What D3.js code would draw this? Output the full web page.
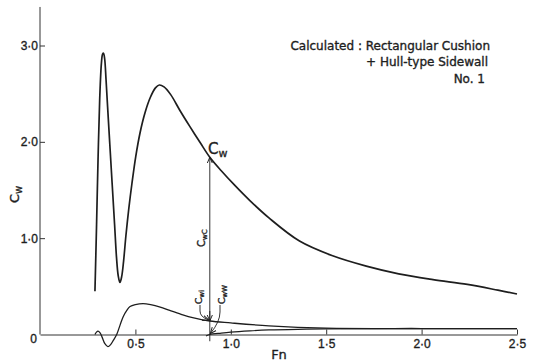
<!DOCTYPE html>
<html>
<head>
<meta charset="utf-8">
<script src="https://cdn.jsdelivr.net/npm/d3@7"></script>
<style>
  body { margin: 0; background: #fff; }
  svg { display: block; }
  text { stroke: #1e1e1e; stroke-width: 0.35px; }
</style>
</head>
<body>
<svg id="chart" width="534" height="363"></svg>
<script>
// Wave-resistance coefficient Cw and its components against Froude number Fn

// Total wave resistance Cw
const cwFn  = [0.288,0.296,0.304,0.313,0.322,0.328,0.333,0.339,0.346,0.355,0.366,0.378,0.391,0.401,0.410,0.419,0.428,0.438,0.450,0.465,0.482,0.502,0.525,0.550,0.578,0.605,0.625,0.650,0.685,0.735,0.785,0.840,0.890,0.950,1.020,1.100,1.200,1.360,1.530,1.710,1.880,2.060,2.240,2.400,2.500];
const cwVal = [0.45,1.10,1.80,2.45,2.82,2.91,2.92,2.86,2.65,2.34,1.97,1.57,1.14,0.80,0.61,0.54,0.60,0.76,1.02,1.30,1.57,1.85,2.10,2.30,2.46,2.56,2.59,2.57,2.49,2.32,2.16,1.99,1.84,1.70,1.55,1.39,1.21,0.97,0.82,0.71,0.63,0.57,0.52,0.46,0.42];

// Interaction component Cwi
const cwiFn  = [0.288,0.296,0.304,0.314,0.326,0.340,0.356,0.370,0.386,0.402,0.420,0.436,0.455,0.472,0.500,0.540,0.580,0.630,0.680,0.740,0.800,0.890,1.000,1.200,1.500,2.000,2.500];
const cwiVal = [0.00,0.025,0.035,0.020,-0.030,-0.095,-0.125,-0.105,-0.055,0.00,0.10,0.185,0.25,0.29,0.31,0.32,0.31,0.285,0.25,0.21,0.175,0.14,0.12,0.09,0.066,0.062,0.062];

// Sidewall component CwW
const cwwFn  = [0.870,0.890,0.950,1.000,1.100,1.200,1.350,1.500,2.000,2.500];
const cwwVal = [-0.015,0.00,0.015,0.025,0.038,0.047,0.054,0.058,0.060,0.060];

// Annotated Froude number and the component values there
const markFn  = 0.89;
const markCw  = 1.84;
const markCwi = 0.14;

const xTicks = [0.5, 1.0, 1.5, 2.0, 2.5];
const yTicks = [1.0, 2.0, 3.0];
const titleLines = ["Calculated : Rectangular Cushion", "+ Hull-type Sidewall", "No. 1"];

const ink = "#1e1e1e";
const svg = d3.select("#chart");

const x = d3.scaleLinear().domain([0, 2.5]).range([40, 517]);
const y = d3.scaleLinear().domain([0, 3]).range([334.5, 45.5]);
const fmt = d => d3.format(".1f")(d).replace(".", "\u00b7");

// arrowhead (open V)
svg.append("defs").append("marker")
  .attr("id", "arr")
  .attr("viewBox", "0 0 8 8")
  .attr("refX", 7).attr("refY", 4)
  .attr("markerWidth", 7).attr("markerHeight", 7)
  .attr("markerUnits", "userSpaceOnUse")
  .attr("orient", "auto-start-reverse")
  .append("path")
  .attr("d", "M0,1 L7,4 L0,7")
  .attr("fill", "none").attr("stroke", ink).attr("stroke-width", 1.1);

// axes
const xAxis = svg.append("g")
  .attr("transform", `translate(0,${y(0)})`)
  .call(d3.axisBottom(x).tickValues(xTicks).tickSize(-5).tickSizeOuter(0).tickPadding(5).tickFormat(fmt));
const yAxis = svg.append("g")
  .attr("transform", `translate(${x(0)},0)`)
  .call(d3.axisLeft(y).tickValues(yTicks).tickSize(-5).tickSizeOuter(0).tickPadding(2).tickFormat(fmt));
yAxis.select(".domain").remove();
yAxis.append("line")
  .attr("x1", 0).attr("x2", 0)
  .attr("y1", y(0)).attr("y2", y(3.4));

[xAxis, yAxis].forEach(g => {
  g.selectAll("path, line").attr("stroke", "#333").attr("stroke-width", 1);
  g.selectAll("text")
    .attr("fill", ink)
    .style("font-family", "'Liberation Sans', Arial, sans-serif")
    .style("font-size", "12px");
});

// origin label
svg.append("text")
  .attr("x", 37).attr("y", 343)
  .attr("text-anchor", "end")
  .attr("fill", ink)
  .style("font-family", "'Liberation Sans', Arial, sans-serif")
  .style("font-size", "12px")
  .text("0");

// axis titles
svg.append("text")
  .attr("x", 279).attr("y", 359)
  .attr("text-anchor", "middle")
  .attr("fill", ink)
  .style("font-family", "'DejaVu Sans', sans-serif")
  .style("font-size", "13px")
  .text("Fn");

function subLabel(g, main, sub, mainSize, subSize) {
  const t = g.append("text")
    .attr("fill", ink)
    .style("font-family", "'DejaVu Sans', sans-serif")
    .style("font-size", mainSize + "px");
  t.append("tspan").text(main);
  t.append("tspan").attr("dy", subSize * 0.3).style("font-size", subSize + "px").text(sub);
  return t;
}

const yTitle = svg.append("g").attr("transform", "translate(19,203) rotate(-90)");
subLabel(yTitle, "C", "w", 13, 10);

// curves
const line = d3.line()
  .x(d => x(d[0]))
  .y(d => y(d[1]))
  .curve(d3.curveCatmullRom.alpha(0.5));

const curves = [
  { fn: cwFn,  val: cwVal,  w: 1.7 },
  { fn: cwiFn, val: cwiVal, w: 1.3 },
  { fn: cwwFn, val: cwwVal, w: 1.2 }
];
curves.forEach(c => {
  svg.append("path")
    .datum(c.fn.map((f, i) => [f, c.val[i]]))
    .attr("d", line)
    .attr("fill", "none")
    .attr("stroke", ink)
    .attr("stroke-width", c.w)
    .attr("stroke-linejoin", "round");
});

// Cw label beside the curve
const cwLab = svg.append("g").attr("transform", "translate(208,154)");
subLabel(cwLab, "C", "w", 15, 11);

// vertical dimension line at the annotated Fn
const xm = x(markFn);
svg.append("path")
  .attr("d", `M${xm},${y(markCw)} L${xm},${y(-0.07)}`)
  .attr("stroke", ink).attr("stroke-width", 0.9).attr("fill", "none")
  .attr("marker-start", "url(#arr)");
svg.append("path")
  .attr("d", `M${xm},${y(markCwi) - 10} L${xm},${y(markCwi)}`)
  .attr("stroke", ink).attr("stroke-width", 0.9).attr("fill", "none")
  .attr("marker-end", "url(#arr)");

// CwC label along the dimension line
const cwcLab = svg.append("g").attr("transform", `translate(${xm - 5},${y(1.0)}) rotate(-90)`);
subLabel(cwcLab, "C", "wC", 10, 7).attr("text-anchor", "middle");

// Cwi and CwW labels with leader brackets
const cwiLab = svg.append("g").attr("transform", "translate(202,304) rotate(-90)");
subLabel(cwiLab, "C", "wi", 9, 7);
const cwwLab = svg.append("g").attr("transform", "translate(225,304) rotate(-90)");
subLabel(cwwLab, "C", "wW", 9, 7);

svg.append("path")
  .attr("d", `M200,305 L200,311 Q200,317 ${xm - 1},${y(markCwi) - 1}`)
  .attr("stroke", ink).attr("stroke-width", 0.9).attr("fill", "none")
  .attr("marker-end", "url(#arr)");
svg.append("path")
  .attr("d", `M220,305 L220,312 Q220,322 ${xm + 0.5},${y(0) - 1}`)
  .attr("stroke", ink).attr("stroke-width", 0.9).attr("fill", "none")
  .attr("marker-end", "url(#arr)");

// title block
const title = svg.append("g")
  .style("font-family", "'DejaVu Sans', sans-serif")
  .style("font-size", "12px")
  .attr("fill", ink)
  .attr("text-anchor", "end");
const titleX = [490, 488, 485];
const titleY = [50, 66, 83];
titleLines.forEach((t, i) => {
  title.append("text").attr("x", titleX[i]).attr("y", titleY[i]).text(t);
});
</script>
</body>
</html>
